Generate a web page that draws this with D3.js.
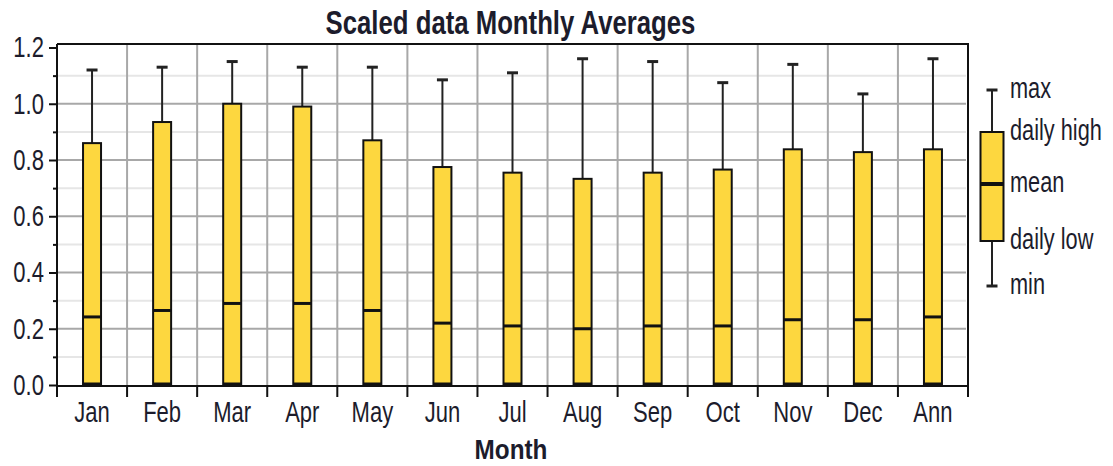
<!DOCTYPE html>
<html>
<head>
<meta charset="utf-8">
<script src="https://cdn.jsdelivr.net/npm/d3@7"></script>
<style>
  body { margin: 0; background: #fff; }
  svg { display: block; }
  text { font-family: "Liberation Sans", Arial, sans-serif; fill: #1c1c2c; }
</style>
</head>
<body>
<div id="chart"></div>
<script>
// Scaled data monthly box chart
const months = ['Jan', 'Feb', 'Mar', 'Apr', 'May', 'Jun', 'Jul', 'Aug', 'Sep', 'Oct', 'Nov', 'Dec', 'Ann'];
const maxVals  = [1.12, 1.13, 1.15, 1.13, 1.13, 1.085, 1.11, 1.16, 1.15, 1.075, 1.14, 1.035, 1.16];
const highVals = [0.86, 0.935, 1.0, 0.99, 0.87, 0.775, 0.755, 0.733, 0.755, 0.766, 0.838, 0.828, 0.838];
const meanVals = [0.242, 0.265, 0.29, 0.29, 0.265, 0.22, 0.21, 0.2, 0.21, 0.21, 0.232, 0.232, 0.242];
const lowVals  = [0, 0, 0, 0, 0, 0, 0, 0, 0, 0, 0, 0, 0];
const minVals  = [0, 0, 0, 0, 0, 0, 0, 0, 0, 0, 0, 0, 0];
const yMajor = [0, 0.2, 0.4, 0.6, 0.8, 1.0, 1.2];
const yMinor = [0.1, 0.3, 0.5, 0.7, 0.9, 1.1];
const legendLabels = ['max', 'daily high', 'mean', 'daily low', 'min'];

const width = 1113, height = 466;
const plotLeft = 57, plotRight = 968, plotTop = 44, plotBottom = 385;
const squeezeK = 0.76;
const barFill = '#fdd73f';

const data = months.map((m, i) => ({
    month: m, max: maxVals[i], high: highVals[i], mean: meanVals[i], low: lowVals[i], min: minVals[i]
}));

const svg = d3.select('#chart').append('svg')
    .attr('width', width)
    .attr('height', height);

const x = d3.scaleBand().domain(months).range([plotLeft, plotRight]);
const y = d3.scaleLinear().domain([0, 1.2]).range([plotBottom, 47.5]);

// narrow the text like the original rendering (scale around the text anchor)
function squeeze(sel, k) {
    sel.each(function() {
        const tx = +this.getAttribute('x') || 0;
        const ty = +this.getAttribute('y') || 0;
        this.setAttribute('x', 0);
        this.setAttribute('y', 0);
        this.setAttribute('transform', `translate(${tx},${ty}) scale(${k},1)`);
    });
}

// Grid lines
svg.append('g').selectAll('line')
    .data(yMinor).enter().append('line')
    .attr('x1', plotLeft).attr('x2', plotRight - 2)
    .attr('y1', d => y(d)).attr('y2', d => y(d))
    .attr('stroke', '#e6e6e6').attr('stroke-width', 2);

svg.append('g').selectAll('line')
    .data(yMajor.filter(d => d > 0 && d < 1.2)).enter().append('line')
    .attr('x1', plotLeft).attr('x2', plotRight - 2)
    .attr('y1', d => y(d)).attr('y2', d => y(d))
    .attr('stroke', '#a8a8a8').attr('stroke-width', 2);

const bounds = months.map(m => x(m)).concat([x.range()[1]]);

svg.append('g').selectAll('line')
    .data(bounds.slice(1, -1)).enter().append('line')
    .attr('x1', d => d).attr('x2', d => d)
    .attr('y1', plotTop).attr('y2', plotBottom)
    .attr('stroke', '#a8a8a8').attr('stroke-width', 2);

// Boxes
const barW = 18, capW = 11;
const box = svg.append('g').selectAll('g')
    .data(data).enter().append('g')
    .attr('transform', d => `translate(${x(d.month) + x.bandwidth() / 2},0)`);

box.append('line')
    .attr('y1', d => y(d.max)).attr('y2', d => y(d.high))
    .attr('stroke', '#222').attr('stroke-width', 2);
box.append('line')
    .attr('x1', -capW / 2).attr('x2', capW / 2)
    .attr('y1', d => y(d.max)).attr('y2', d => y(d.max))
    .attr('stroke', '#222').attr('stroke-width', 3);
box.append('line')
    .attr('y1', d => y(d.low)).attr('y2', d => y(d.min))
    .attr('stroke', '#222').attr('stroke-width', 2);
box.append('line')
    .attr('x1', -capW / 2).attr('x2', capW / 2)
    .attr('y1', d => y(d.min)).attr('y2', d => y(d.min))
    .attr('stroke', '#222').attr('stroke-width', 3);
box.append('rect')
    .attr('x', -barW / 2).attr('width', barW)
    .attr('y', d => y(d.high))
    .attr('height', d => y(d.low) - y(d.high))
    .attr('fill', barFill).attr('stroke', '#111').attr('stroke-width', 2);
box.append('line')
    .attr('x1', -barW / 2).attr('x2', barW / 2)
    .attr('y1', d => y(d.mean)).attr('y2', d => y(d.mean))
    .attr('stroke', '#111').attr('stroke-width', 3);
box.append('line')
    .attr('x1', -barW / 2).attr('x2', barW / 2)
    .attr('y1', d => y(d.low) - 1).attr('y2', d => y(d.low) - 1)
    .attr('stroke', '#111').attr('stroke-width', 3);

// Frame
svg.append('path')
    .attr('d', `M${plotLeft},${plotTop}H${plotRight}V${plotBottom + 1}`)
    .attr('fill', 'none').attr('stroke', '#111').attr('stroke-width', 2);

// Y axis
const yAxis = svg.append('g')
    .attr('transform', `translate(${plotLeft},0)`)
    .call(d3.axisLeft(y).tickValues(yMajor).tickFormat(d3.format('.1f')).tickSize(8).tickPadding(5));
yAxis.select('.domain').attr('d', `M0,${plotTop}V${plotBottom + 1}`).attr('stroke', '#111').attr('stroke-width', 2);
yAxis.selectAll('.tick line').attr('stroke', '#111').attr('stroke-width', 2);
yAxis.selectAll('text').attr('font-size', 29).attr('fill', '#1c1c2c')
    .attr('font-family', '"Liberation Sans", Arial, sans-serif').call(squeeze, squeezeK);

const yMinorAxis = svg.append('g')
    .attr('transform', `translate(${plotLeft},0)`)
    .call(d3.axisLeft(y).tickValues(yMinor).tickFormat('').tickSize(4));
yMinorAxis.select('.domain').remove();
yMinorAxis.selectAll('.tick line').attr('stroke', '#111').attr('stroke-width', 2);

// X axis
const xAxisY = plotBottom + 1;
svg.append('line')
    .attr('x1', plotLeft - 1).attr('x2', plotRight + 1)
    .attr('y1', xAxisY).attr('y2', xAxisY)
    .attr('stroke', '#111').attr('stroke-width', 2);
svg.append('g').selectAll('line')
    .data(bounds).enter().append('line')
    .attr('x1', d => d).attr('x2', d => d)
    .attr('y1', xAxisY).attr('y2', xAxisY + 11)
    .attr('stroke', '#111').attr('stroke-width', 2);

svg.append('g').selectAll('text')
    .data(months).enter().append('text')
    .attr('x', d => x(d) + x.bandwidth() / 2)
    .attr('y', 421.5)
    .attr('text-anchor', 'middle')
    .attr('font-size', 29)
    .text(d => d)
    .call(squeeze, squeezeK);

// Title and axis label
svg.append('text')
    .attr('x', 510.5).attr('y', 34)
    .attr('text-anchor', 'middle')
    .attr('font-size', 33).attr('font-weight', 'bold')
    .attr('fill', '#111')
    .text('Scaled data Monthly Averages')
    .call(squeeze, 0.78);

svg.append('text')
    .attr('x', 511).attr('y', 459)
    .attr('text-anchor', 'middle')
    .attr('font-size', 27).attr('font-weight', 'bold')
    .attr('fill', '#111')
    .text('Month')
    .call(squeeze, 0.9);

// Legend
const lg = svg.append('g').attr('transform', 'translate(992,0)');
const lgY = [90, 132, 184, 241, 286];
lg.append('line').attr('y1', lgY[0]).attr('y2', lgY[4]).attr('stroke', '#222').attr('stroke-width', 2);
lg.selectAll('line.cap')
    .data([lgY[0], lgY[4]]).enter().append('line')
    .attr('x1', -capW / 2).attr('x2', capW / 2)
    .attr('y1', d => d).attr('y2', d => d)
    .attr('stroke', '#222').attr('stroke-width', 3);
lg.append('rect')
    .attr('x', -11.5).attr('width', 23)
    .attr('y', lgY[1]).attr('height', lgY[3] - lgY[1])
    .attr('fill', barFill).attr('stroke', '#111').attr('stroke-width', 2);
lg.append('line')
    .attr('x1', -11.5).attr('x2', 11.5)
    .attr('y1', lgY[2]).attr('y2', lgY[2])
    .attr('stroke', '#111').attr('stroke-width', 4);
lg.selectAll('text')
    .data(legendLabels).enter().append('text')
    .attr('x', 18)
    .attr('y', (d, i) => lgY[i] + 7.5)
    .attr('font-size', 29)
    .text(d => d)
    .call(squeeze, 0.75);
</script>
</body>
</html>
